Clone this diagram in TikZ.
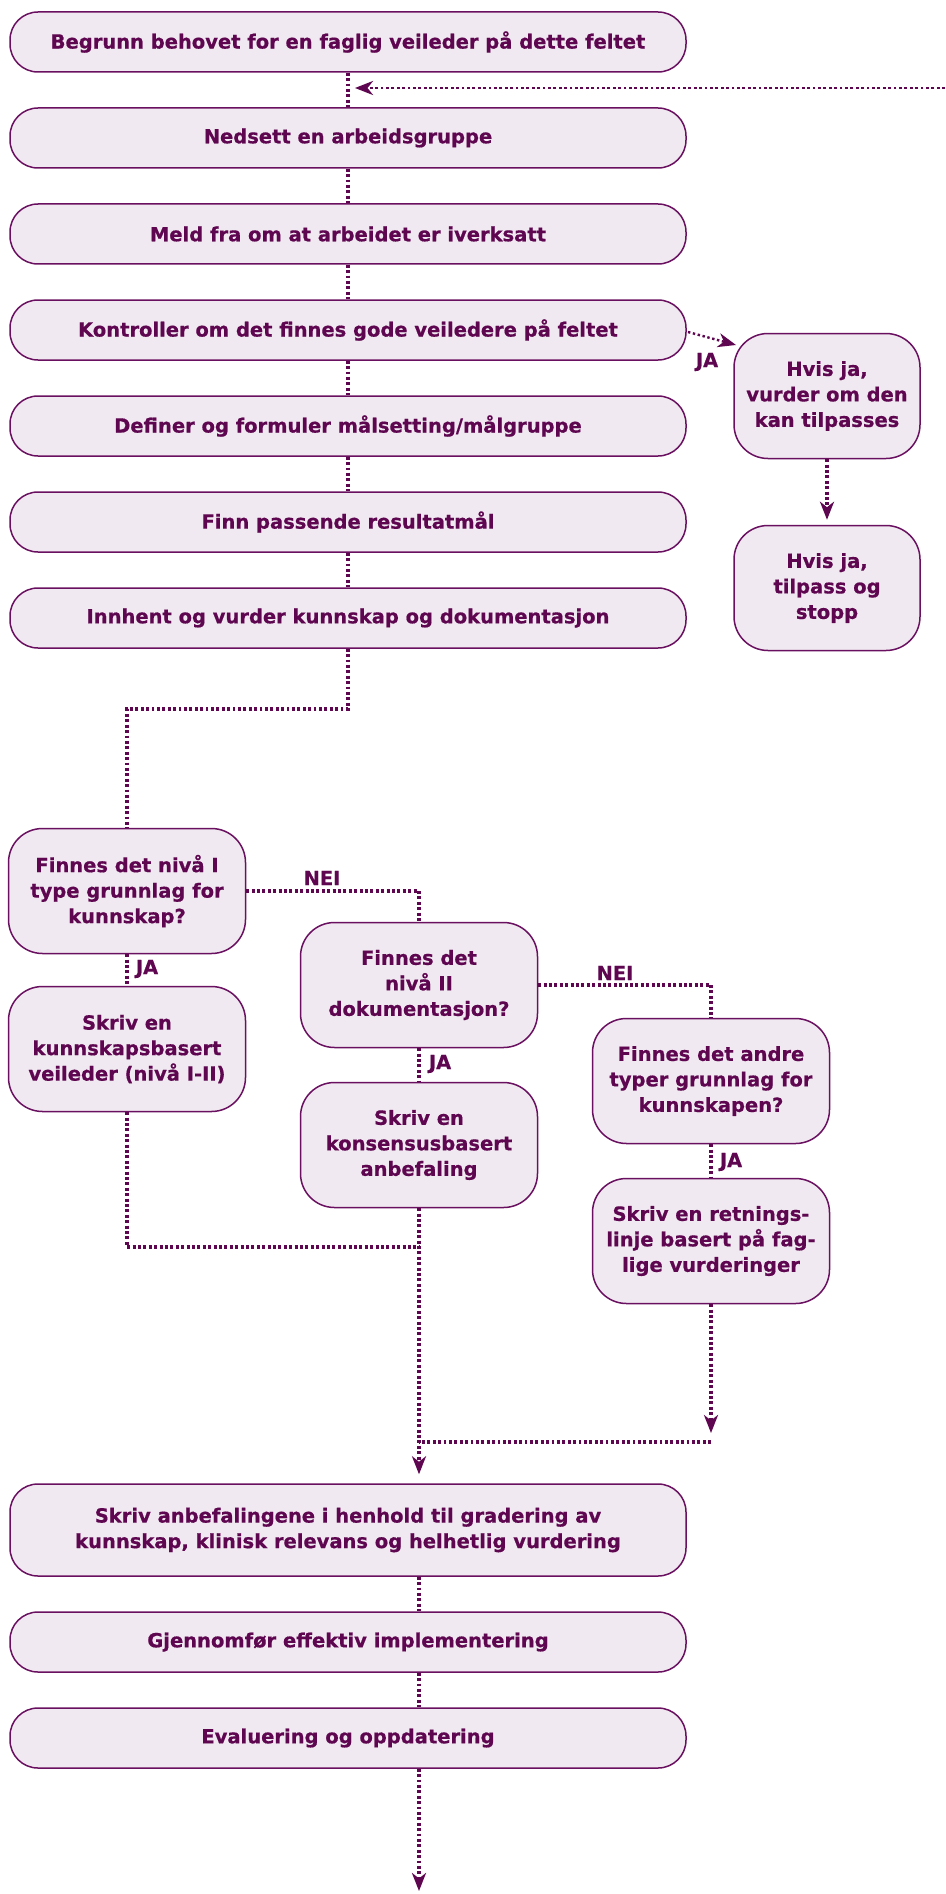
\documentclass[tikz,border=0pt]{standalone}
\usepackage{fontspec}
\setmainfont{DejaVu Sans}[BoldFeatures={FakeBold=0.6}]
\usetikzlibrary{arrows.meta}
\definecolor{txt}{RGB}{94,6,80}
\definecolor{brd}{RGB}{106,16,96}
\definecolor{fil}{RGB}{241,233,241}
\tikzset{
  wide/.style={draw=brd, fill=fil, line width=1.5pt, rounded corners=28pt,
    minimum width=676pt, minimum height=60pt, inner sep=0pt, text=txt,
    font=\fontsize{19.5}{25.5}\selectfont\bfseries, align=center},
  sq/.style={wide, rounded corners=34pt, minimum width=237pt, minimum height=125pt},
  con/.style={draw=txt, line width=3.1pt, dash pattern=on 2.9pt off 2.5pt},
  arr/.style={con, -{Stealth[length=18pt,width=14pt,inset=5.5pt]}},
  lbl/.style={text=txt, inner sep=0pt, font=\fontsize{19.5}{25.5}\selectfont\bfseries}
}
\begin{document}
\begin{tikzpicture}[x=1pt,y=-1pt]
\useasboundingbox (0,0) rectangle (945,1894);
% main column
\node[wide] (b1) at (348,42) {Begrunn behovet for en faglig veileder på dette feltet};
\node[wide] (b2) at (348,138) {Nedsett en arbeidsgruppe};
\node[wide] (b3) at (348,234) {Meld fra om at arbeidet er iverksatt};
\node[wide] (b4) at (348,330) {Kontroller om det finnes gode veiledere på feltet};
\node[wide] (b5) at (348,426) {Definer og formuler målsetting/målgruppe};
\node[wide] (b6) at (348,522) {Finn passende resultatmål};
\node[wide] (b7) at (348,618) {Innhent og vurder kunnskap og dokumentasjon};
% right column
\node[sq, minimum width=186pt] (r1) at (827,396) {Hvis ja,\\vurder om den\\kan tilpasses};
\node[sq, minimum width=186pt] (r2) at (827,588) {Hvis ja,\\tilpass og\\stopp};
% decision boxes
\node[sq] (A) at (127,891) {Finnes det nivå I\\type grunnlag for\\kunnskap?};
\node[sq] (C) at (127,1049) {Skriv en\\kunnskapsbasert\\veileder (nivå I-II)};
\node[sq] (B) at (419,985) {Finnes det\\nivå II\\dokumentasjon?};
\node[sq] (D) at (419,1145) {Skriv en\\konsensusbasert\\anbefaling};
\node[sq] (E) at (711,1081) {Finnes det andre\\typer grunnlag for\\kunnskapen?};
\node[sq] (F) at (711,1241) {Skriv en retnings-\\linje basert på fag-\\lige vurderinger};
% bottom
\node[wide, minimum height=92pt] (G) at (348,1530) {Skriv anbefalingene i henhold til gradering av\\kunnskap, klinisk relevans og helhetlig vurdering};
\node[wide] (H) at (348,1642) {Gjennomfør effektiv implementering};
\node[wide] (I) at (348,1738) {Evaluering og oppdatering};
% coordinates
\coordinate (tr) at (945,88);
\coordinate (trend) at (355,88);
\coordinate (jaS) at (688,332);
\coordinate (jaT) at (736,345);
\coordinate (k1) at (348,709);
\coordinate (m1) at (419,1247);
\coordinate (m2) at (711,1433);
\coordinate (m3) at (711,1442);
\coordinate (m4) at (419,1442);
\coordinate (endp) at (419,1891);
% connectors top
\draw[con] (b1) -- (b2);
\draw[con] (b2) -- (b3);
\draw[con] (b3) -- (b4);
\draw[con] (b4) -- (b5);
\draw[con] (b5) -- (b6);
\draw[con] (b6) -- (b7);
\draw[arr, line width=2.7pt] (tr) -- (trend);
\draw[arr, line width=2.4pt, dash pattern=on 2.4pt off 2.6pt] (jaS) -- (jaT);
\node[lbl] (jaL1) at (707,362) {JA};
\draw[arr, shorten >=5pt] (r1) -- (r2);
% branches
\draw[con] (b7.south) -- (k1) -| (A.north);
\draw[con] (A.east) -| (B.north);
\node[lbl] (nei1) at (322,878) {NEI};
\draw[con] (A) -- (C);
\node[lbl] (ja2) at (147,969) {JA};
\draw[con] (B) -- (D);
\node[lbl] (ja3) at (440,1064) {JA};
\draw[con] (B.east) -| (E.north);
\node[lbl] (nei2) at (615,973) {NEI};
\draw[con] (E) -- (F);
\node[lbl] (ja4) at (731,1162) {JA};
% merge
\draw[con] (C.south) |- (m1);
\draw[arr, shorten >=9pt] (D.south) -- (D.south |- G.north);
\draw[arr] (F.south) -- (m2);
\draw[con] (m3) -- (m4);
\draw[con] (G.south -| m4) -- (H.north -| m4);
\draw[con] (H.south -| m4) -- (I.north -| m4);
\draw[arr] (I.south -| m4) -- (endp);
\end{tikzpicture}
\end{document}
